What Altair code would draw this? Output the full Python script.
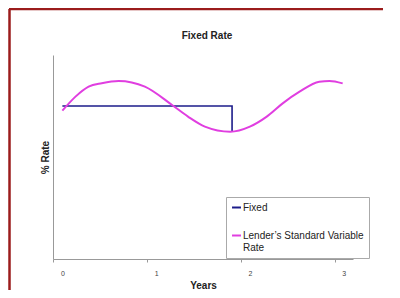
import altair as alt
import pandas as pd

# Data
var_years = [0.00, 0.14, 0.28, 0.42, 0.60, 0.88, 1.17, 1.34, 1.52, 1.79, 2.00, 2.18, 2.35, 2.53, 2.74, 2.85, 2.99]
var_rates = [7.27, 7.96, 8.45, 8.62, 8.73, 8.45, 7.55, 6.98, 6.49, 6.24, 6.49, 6.98, 7.63, 8.20, 8.69, 8.73, 8.61]
fixed_years = [0.0, 1.81, 1.81]
fixed_rates = [7.5, 7.5, 6.24]
series_names = ["Fixed", "Lender's Standard Variable Rate"]
series_colors = ["#1c1c8a", "#e03ee0"]
x_ticks = [0, 1, 2, 3]

fixed_df = pd.DataFrame({
    "series": series_names[0],
    "year": fixed_years,
    "rate": fixed_rates,
    "order": list(range(len(fixed_years))),
})
var_df = pd.DataFrame({
    "series": series_names[1],
    "year": var_years,
    "rate": var_rates,
    "order": list(range(len(var_years))),
})

FONT = "Liberation Sans"

x_enc = alt.X(
    "year:Q",
    scale=alt.Scale(domain=[-0.1, 3.1], nice=False, zero=False),
    axis=alt.Axis(
        values=x_ticks, format="d", title="Years", grid=False,
        labelFontSize=7, labelColor="#444444", labelFont=FONT,
        tickOffset=-9, labelOffset=9, tickSize=3, tickColor="#999999",
        domainColor="#999999", labelPadding=7,
        titleFontSize=10, titleFontWeight="bold", titleFont=FONT,
        titleColor="#222222", titlePadding=4,
    ),
)
y_enc = alt.Y(
    "rate:Q",
    scale=alt.Scale(domain=[0, 10], nice=False),
    axis=alt.Axis(
        labels=False, ticks=False, grid=False, title="% Rate",
        domainColor="#999999", titleFontSize=10, titleFontWeight="bold",
        titleFont=FONT, titleColor="#222222", titlePadding=3,
    ),
)
color_enc = alt.Color(
    "series:N",
    scale=alt.Scale(domain=series_names, range=series_colors),
    legend=alt.Legend(
        orient="none", legendX=173, legendY=142, title=None,
        strokeColor="#aaaaaa", fillColor="white", padding=5,
        labelFontSize=10, labelFont=FONT, labelColor="#222222",
        symbolType="stroke", symbolSize=80, symbolStrokeWidth=2,
        labelOffset=1, rowPadding=17, labelLimit=300,
        labelExpr="datum.label == 'Fixed' ? 'Fixed' : ['Lender\u2019s Standard Variable', 'Rate']",
    ),
)

fixed_line = alt.Chart(fixed_df).mark_line(strokeWidth=1.6).encode(
    x=x_enc, y=y_enc, color=color_enc, order="order:Q"
)
var_line = alt.Chart(var_df).mark_line(strokeWidth=2, interpolate="monotone").encode(
    x=x_enc, y=y_enc, color=color_enc, order="order:Q"
)

frame_df = pd.DataFrame({"k": [0]})
frame_top = alt.Chart(frame_df).mark_rule(color="#9b1c1c", strokeWidth=2.5).encode(
    x=alt.value(-44), x2=alt.value(400), y=alt.value(-46)
)
frame_left = alt.Chart(frame_df).mark_rule(color="#9b1c1c", strokeWidth=2.5).encode(
    x=alt.value(-43.5), y=alt.value(-46), y2=alt.value(300)
)

chart = alt.layer(frame_top, frame_left, fixed_line, var_line).properties(
    width=300, height=204,
    title=alt.TitleParams("Fixed Rate", fontSize=10, fontWeight="bold", font=FONT,
                          color="#222222", offset=-33, dx=4),
    autosize=alt.AutoSizeParams(type="none"),
    padding={"left": 45, "top": 47, "right": 30, "bottom": 31},
).configure(
    background="white",
    view=alt.ViewConfig(stroke=None),
    style={"guide-label": {"lineHeight": 12.5}},
)

chart.save("out.html", embed_options={"renderer": "svg", "actions": False})
